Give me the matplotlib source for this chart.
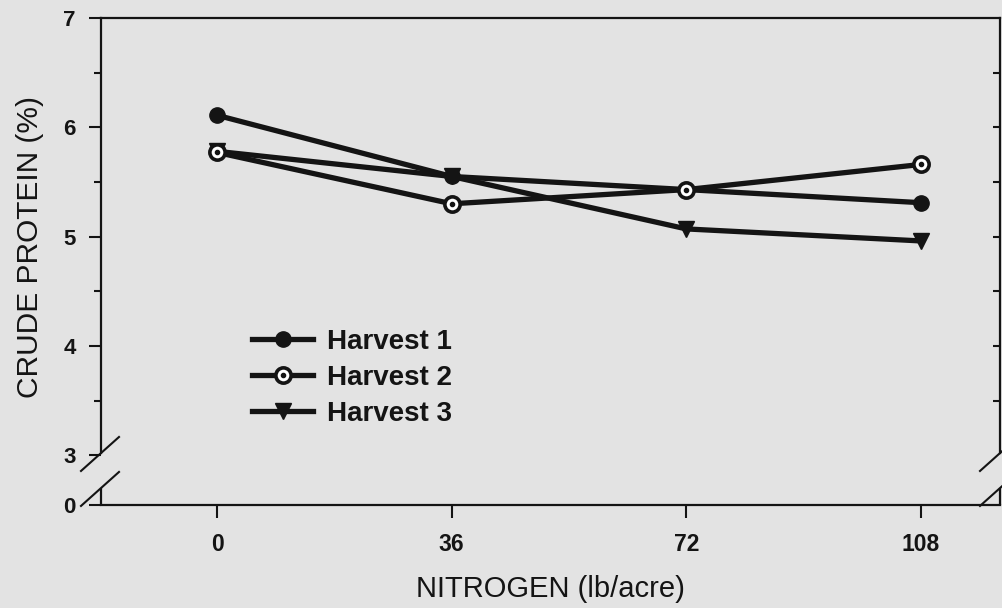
import numpy as np
import matplotlib
matplotlib.use('Agg')
import matplotlib.pyplot as plt
from matplotlib.legend_handler import HandlerTuple
from matplotlib.transforms import IdentityTransform

# data
nitrogen = [0, 36, 72, 108]
harvest1 = [6.11, 5.55, 5.43, 5.31]
harvest2 = [5.77, 5.30, 5.43, 5.66]
harvest3 = [5.78, 5.55, 5.07, 4.96]

x_ticks = [0, 36, 72, 108]
y_major = [3, 4, 5, 6, 7]
y_minor = [3.5, 4.5, 5.5, 6.5]

bg = '#e3e3e3'
ink = '#141414'
plt.rcParams['font.family'] = ['Liberation Sans', 'DejaVu Sans']

fig = plt.figure(figsize=(10.02, 6.08), dpi=100, facecolor=bg)
ax = fig.add_axes([101 / 1002, 1 - 505 / 608, 899 / 1002, 487 / 608])
ax.set_facecolor(bg)

y_bot = 2.544
ax.set_xlim(-17.8, 120.1)
ax.set_ylim(y_bot, 7)

# lines
l3, = ax.plot(nitrogen, harvest3, color=ink, lw=3.8, marker='v', ms=11,
              mfc=ink, mec=ink, zorder=3)
l1, = ax.plot(nitrogen, harvest1, color=ink, lw=3.8, marker='o', ms=11,
              mfc=ink, mec=ink, zorder=4)
l2, = ax.plot(nitrogen, harvest2, color=ink, lw=3.8, marker='o', ms=11,
              mfc='white', mec=ink, mew=2.6, zorder=5)
d2, = ax.plot(nitrogen, harvest2, ls='none', marker='o', ms=3,
              mfc=ink, mec=ink, zorder=6)

# axes / ticks
ax.set_xticks(x_ticks)
ax.set_xticklabels([str(v) for v in x_ticks], fontweight='bold')
ax.set_yticks([y_bot] + y_major)
ax.set_yticklabels(['0'] + [str(v) for v in y_major], fontweight='bold')
ax.set_yticks(y_minor, minor=True)
ax.tick_params(axis='both', which='major', length=9, width=1.5, color=ink,
               labelcolor=ink)
ax.tick_params(axis='y', which='minor', length=5, width=1.5, color=ink)
ax.tick_params(axis='y', which='major', pad=9, labelsize=16)
ax.tick_params(axis='x', which='major', pad=11, labelsize=16.5)
ticks = ax.yaxis.get_major_ticks()
ticks[0].tick1line.set_visible(False)
ticks[1].tick1line.set_visible(False)

# right ticks pointing inward
ax2 = ax.twinx()
ax2.set_ylim(ax.get_ylim())
ax2.set_yticks(np.arange(3.5, 7, 0.5))
ax2.tick_params(direction='in', length=5, width=1.5, color=ink, labelright=False)
for s in ax2.spines.values():
    s.set_visible(False)

# spines with breaks
brk_hi = 3.02
brk_lo = 2.70
for side in ['left', 'right', 'top', 'bottom']:
    ax.spines[side].set_linewidth(1.6)
    ax.spines[side].set_color(ink)
ax.spines['left'].set_bounds(brk_hi, 7)
ax.spines['right'].set_bounds(brk_hi, 7)
yt = ax.get_yaxis_transform()
for xa in [0, 1]:
    ax.plot([xa, xa], [y_bot, brk_lo], transform=yt, color=ink, lw=1.6,
            clip_on=False, solid_capstyle='butt')
fig.canvas.draw()
for xa in [0, 1]:
    for yv in [brk_hi, brk_lo]:
        px, py = yt.transform((xa, yv))
        ax.plot([px - 20, px + 18], [py - 18, py + 16], transform=IdentityTransform(),
                color=ink, lw=1.5, clip_on=False)

ax.set_xlabel('NITROGEN (lb/acre)', fontsize=21, color=ink, labelpad=14)
ax.set_ylabel('CRUDE PROTEIN (%)', fontsize=21.5, color=ink)
ax.yaxis.set_label_coords(-0.063, 0.53)

leg = ax.legend([l1, (l2, d2), l3], ['Harvest 1', 'Harvest 2', 'Harvest 3'],
                handler_map={tuple: HandlerTuple(ndivide=1, pad=0)},
                loc='upper left', bbox_to_anchor=(0.168, 0.361), frameon=False,
                borderpad=0, borderaxespad=0, handlelength=2.2, handletextpad=0.5,
                labelspacing=0.35, prop={'weight': 'bold', 'size': 20})
for t in leg.get_texts():
    t.set_color(ink)

fig.savefig('out.png', dpi=100, facecolor=bg)
